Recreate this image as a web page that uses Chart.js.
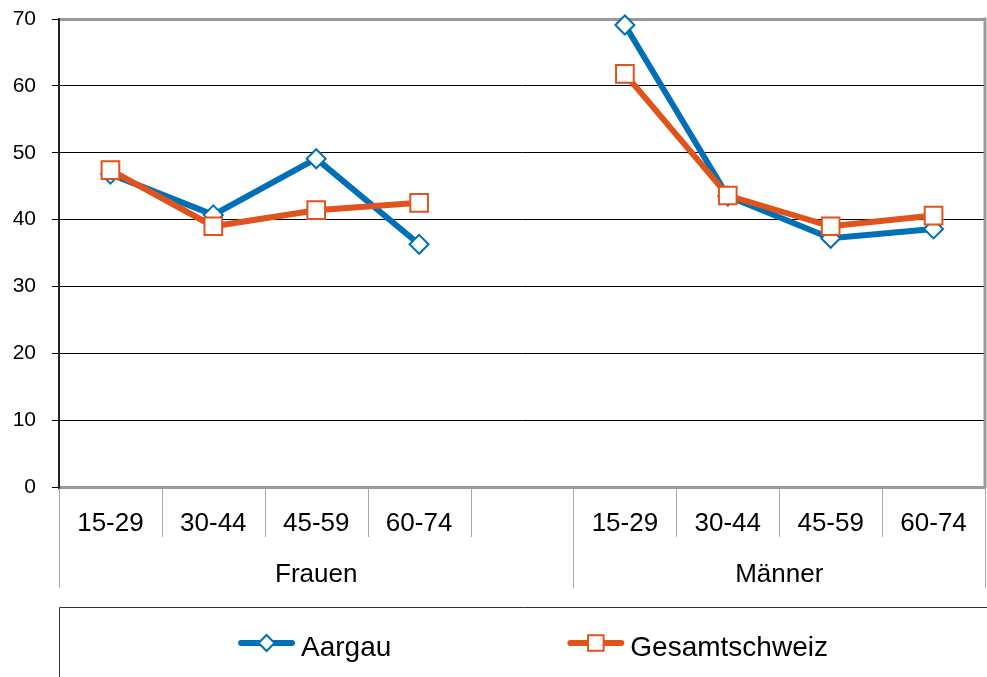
<!DOCTYPE html>
<html>
<head>
<meta charset="utf-8">
<script src="https://cdn.jsdelivr.net/npm/chart.js@4/dist/chart.umd.min.js"></script>
<style>
  html, body { margin: 0; padding: 0; background: #fff; }
  #wrap { width: 987px; height: 677px; }
</style>
</head>
<body>
<div id="wrap"><canvas id="chart" width="987" height="677"></canvas></div>
<script>
// Age bands per sex; the empty slot separates the two groups
const ageGroups = ['15-29', '30-44', '45-59', '60-74', '', '15-29', '30-44', '45-59', '60-74'];
const sexGroups = ['Frauen', 'Männer'];
const sexGroupStart = [0, 5];
const sexGroupEnd = [4, 8];

const aargau = [46.8, 40.7, 49.1, 36.3, null, 69.1, 43.5, 37.2, 38.6];
const gesamtschweiz = [47.4, 39.0, 41.4, 42.5, null, 61.8, 43.6, 39.0, 40.6];

const yMin = 0;
const yMax = 70;
const yStep = 10;

const FONT = "'Liberation Sans', Arial, sans-serif";
const BLUE = '#0070b6';
const ORANGE = '#e0531d';
const FRAME_GREY = '#9a9a9a';
const SEP_GREY = '#a8a8a8';

// Right plot border, two-level category axis and boxed legend
const decorations = {
  id: 'decorations',
  beforeDatasetsDraw(chart) {
    const { ctx, chartArea } = chart;
    ctx.save();
    ctx.strokeStyle = FRAME_GREY;
    ctx.lineWidth = 3;
    ctx.beginPath();
    ctx.moveTo(chartArea.right, chartArea.top - 1.5);
    ctx.lineTo(chartArea.right, chartArea.bottom + 1.5);
    ctx.stroke();
    ctx.restore();
  },
  afterDraw(chart) {
    const { ctx, chartArea } = chart;
    const x = chart.scales.x;
    const half = (x.getPixelForValue(1) - x.getPixelForValue(0)) / 2;
    const edge = k => (k < ageGroups.length ? x.getPixelForValue(k) - half : x.getPixelForValue(ageGroups.length - 1) + half);
    const bottom = chartArea.bottom;
    const row1 = bottom + 50;
    const row2 = bottom + 101;

    ctx.save();
    // separators
    ctx.strokeStyle = SEP_GREY;
    ctx.lineWidth = 1;
    const groupEdges = new Set();
    sexGroupStart.forEach(s => groupEdges.add(s));
    sexGroupEnd.forEach(e => groupEdges.add(e + 1));
    for (let k = 0; k <= ageGroups.length; k++) {
      const px = Math.round(edge(k)) + 0.5;
      ctx.beginPath();
      ctx.moveTo(px, bottom + 1.5);
      ctx.lineTo(px, groupEdges.has(k) ? row2 : row1);
      ctx.stroke();
    }
    // age band labels
    ctx.fillStyle = '#000';
    ctx.textAlign = 'center';
    ctx.textBaseline = 'alphabetic';
    ctx.font = '26px ' + FONT;
    ageGroups.forEach((lab, i) => {
      if (lab) ctx.fillText(lab, x.getPixelForValue(i), bottom + 44);
    });
    // sex group labels
    sexGroups.forEach((lab, g) => {
      const cx = (edge(sexGroupStart[g]) + edge(sexGroupEnd[g] + 1)) / 2;
      ctx.fillText(lab, cx, bottom + 95);
    });

    // legend box
    const boxTop = 607.5;
    const boxLeft = Math.round(chartArea.left) + 0.5;
    ctx.strokeStyle = '#333';
    ctx.lineWidth = 1;
    ctx.beginPath();
    ctx.moveTo(boxLeft, chart.height + 5);
    ctx.lineTo(boxLeft, boxTop);
    ctx.lineTo(chart.width + 5, boxTop);
    ctx.stroke();

    // legend entries
    ctx.font = '28px ' + FONT;
    const lineLen = 57;
    const textGap = 6;
    const itemGap = 176;
    const sets = chart.data.datasets;
    const widths = sets.map(ds => lineLen + textGap + ctx.measureText(ds.label).width);
    const total = widths.reduce((a, b) => a + b, 0) + itemGap * (sets.length - 1);
    let lx = 533 - total / 2;
    const ly = 645;
    sets.forEach((ds, i) => {
      ctx.strokeStyle = ds.borderColor;
      ctx.lineWidth = 6;
      ctx.lineCap = 'round';
      ctx.beginPath();
      ctx.moveTo(lx + 3, ly - 2);
      ctx.lineTo(lx + lineLen - 3, ly - 2);
      ctx.stroke();
      ctx.lineCap = 'butt';
      ctx.fillStyle = '#fff';
      ctx.strokeStyle = ds.pointBorderColor;
      ctx.lineWidth = 2;
      Chart.helpers.drawPoint(ctx, {
        pointStyle: ds.pointStyle,
        radius: ds.pointStyle === 'rect' ? 11 : 8,
        rotation: 0,
        borderWidth: 2
      }, lx + lineLen / 2, ly - 2);
      ctx.fillStyle = '#000';
      ctx.textAlign = 'left';
      ctx.textBaseline = 'alphabetic';
      ctx.fillText(ds.label, lx + lineLen + textGap, ly + 11);
      lx += widths[i] + itemGap;
    });
    ctx.restore();
  }
};

new Chart(document.getElementById('chart'), {
  type: 'line',
  data: {
    labels: ageGroups,
    datasets: [
      {
        label: 'Aargau',
        data: aargau,
        borderColor: BLUE,
        borderWidth: 6,
        pointStyle: 'rectRot',
        pointRadius: 9.5,
        pointHoverRadius: 9.5,
        pointBorderWidth: 2,
        pointBorderColor: BLUE,
        pointBackgroundColor: '#fff',
        tension: 0,
        spanGaps: false,
        clip: false,
        order: 1
      },
      {
        label: 'Gesamtschweiz',
        data: gesamtschweiz,
        borderColor: ORANGE,
        borderWidth: 6,
        pointStyle: 'rect',
        pointRadius: 12.5,
        pointHoverRadius: 12.5,
        pointBorderWidth: 2,
        pointBorderColor: ORANGE,
        pointBackgroundColor: '#fff',
        tension: 0,
        spanGaps: false,
        clip: false,
        order: 0
      }
    ]
  },
  options: {
    responsive: false,
    animation: false,
    devicePixelRatio: 1,
    layout: { autoPadding: false, padding: { left: 0, top: 19, right: 2, bottom: 190 } },
    plugins: {
      legend: { display: false },
      title: { display: false },
      tooltip: { enabled: false }
    },
    events: [],
    scales: {
      x: {
        type: 'category',
        offset: true,
        display: false
      },
      y: {
        min: yMin,
        max: yMax,
        afterFit(scale) {
          scale.width = 59;
          scale.paddingTop = 0;
          scale.paddingBottom = 0;
        },
        ticks: {
          stepSize: yStep,
          color: '#000',
          padding: 16,
          font: { family: FONT, size: 21 }
        },
        grid: {
          color: c => (c.tick && (c.tick.value === yMin || c.tick.value === yMax) ? FRAME_GREY : '#000'),
          lineWidth: c => (c.tick && (c.tick.value === yMin || c.tick.value === yMax) ? 3 : 1),
          tickColor: '#000',
          tickWidth: 1,
          tickLength: 7,
          drawTicks: true
        },
        border: { display: true, color: '#222', width: 2 }
      }
    }
  },
  plugins: [decorations]
});
</script>
</body>
</html>
